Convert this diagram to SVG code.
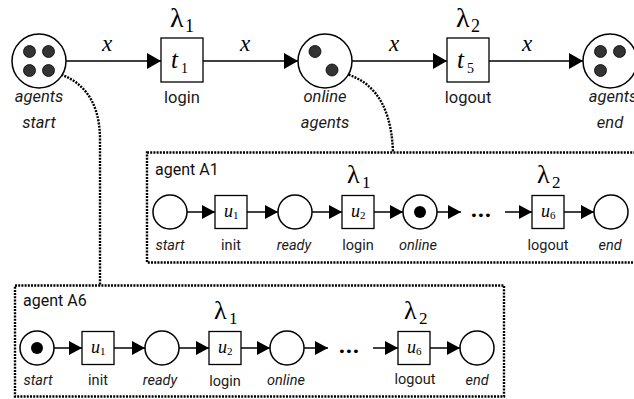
<svg xmlns="http://www.w3.org/2000/svg" width="634" height="399" viewBox="0 0 634 399">
<style>
.pl{fill:#fff;stroke:#000;stroke-width:1.5}
.tr{fill:#fff;stroke:#000;stroke-width:1.3}
.tk{fill:#333;stroke:#000;stroke-width:0.8}
.dot{fill:#000}
.ln{stroke:#000;stroke-width:1.5;fill:none}
.big{marker-end:url(#ah)}
.sm{marker-end:url(#as)}
.dt{fill:none;stroke:#000;stroke-width:2.4;stroke-dasharray:2 1.2}
.lab{font-family:Roboto,"Liberation Sans",sans-serif;font-size:16.5px;fill:#1a1a1a;text-anchor:middle}
.it{font-style:italic}
.sl{font-family:Roboto,"Liberation Sans",sans-serif;font-size:14.5px;fill:#1a1a1a;text-anchor:middle}
.ag{font-family:Roboto,"Liberation Sans",sans-serif;font-size:16px;fill:#111}
.m{font-family:"Liberation Serif","DejaVu Serif",serif;fill:#000}
.mi{font-family:"Liberation Serif","DejaVu Serif",serif;font-style:italic;fill:#000}
.dd{font-family:Roboto,"Liberation Sans",sans-serif;font-size:24px;font-weight:bold;text-anchor:middle;fill:#000}
</style>
<defs>
<marker id="ah" viewBox="0 0 14 16" refX="14" refY="8" markerWidth="14" markerHeight="16" markerUnits="userSpaceOnUse" orient="auto"><path d="M0,0 L14,8 L0,16 z" fill="#000"/></marker>
<marker id="as" viewBox="0 0 13 14" refX="13" refY="7" markerWidth="13" markerHeight="14" markerUnits="userSpaceOnUse" orient="auto"><path d="M0,0 L13,7 L0,14 z" fill="#000"/></marker>
</defs>

<!-- sub-net frames -->
<g id="frameA1"><rect class="dt" x="147" y="152.5" width="500" height="110"/><text class="ag" x="155" y="175">agent A1</text></g>
<g id="frameA6"><rect class="dt" x="15" y="285.5" width="489" height="111"/><text class="ag" x="23" y="306">agent A6</text></g>

<g id="connectors">
<line class="ln big" x1="66" y1="61" x2="161" y2="61"/>
<line class="ln big" x1="203" y1="61" x2="298" y2="61"/>
<line class="ln big" x1="352" y1="61" x2="447" y2="61"/>
<line class="ln big" x1="489" y1="61" x2="583" y2="61"/>
<path class="dt" d="M49,71 C82,78 100,100 100,140 L100,285"/>
<path class="dt" d="M333,71 C368,76 391,98 393,152"/>
<!-- A1 row -->
<line class="ln sm" x1="187" y1="212" x2="215" y2="212"/>
<line class="ln sm" x1="247" y1="212" x2="278" y2="212"/>
<line class="ln sm" x1="312" y1="212" x2="342" y2="212"/>
<line class="ln sm" x1="374" y1="212" x2="403" y2="212"/>
<line class="ln sm" x1="437" y1="212" x2="461" y2="212"/>
<line class="ln sm" x1="505" y1="212" x2="532" y2="212"/>
<line class="ln sm" x1="564" y1="212" x2="594" y2="212"/>
<!-- A6 row -->
<line class="ln sm" x1="54" y1="348" x2="82" y2="348"/>
<line class="ln sm" x1="114" y1="348" x2="145" y2="348"/>
<line class="ln sm" x1="179" y1="348" x2="209" y2="348"/>
<line class="ln sm" x1="241" y1="348" x2="270" y2="348"/>
<line class="ln sm" x1="304" y1="348" x2="328" y2="348"/>
<line class="ln sm" x1="373" y1="348" x2="398" y2="348"/>
<line class="ln sm" x1="430" y1="348" x2="460" y2="348"/>
<g class="mi" font-size="23" text-anchor="middle">
<text x="107" y="51">x</text><text x="245" y="51">x</text><text x="394" y="51">x</text><text x="527" y="51">x</text>
</g>
</g>

<!-- top row -->
<g id="agentsStart">
<circle class="pl" cx="39" cy="61" r="27"/>
<circle class="tk" cx="29.5" cy="51.5" r="6"/><circle class="tk" cx="48.5" cy="51.5" r="6"/>
<circle class="tk" cx="29.5" cy="70.5" r="6"/><circle class="tk" cx="48.5" cy="70.5" r="6"/>
<text class="lab it" x="39" y="102">agents</text><text class="lab it" x="39" y="128">start</text>
</g>
<g id="t1">
<rect class="tr" x="161" y="38" width="42" height="44"/>
<text class="mi" font-size="25" x="171" y="68">t</text><text class="m" font-size="14" x="181" y="73">1</text>
<text class="m" font-size="28" x="170" y="27">λ</text><text class="m" font-size="18" x="185" y="32">1</text>
<text class="lab" x="182" y="103">login</text>
</g>
<g id="onlineAgents">
<circle class="pl" cx="325" cy="61" r="27"/>
<circle class="tk" cx="315" cy="51.5" r="6"/><circle class="tk" cx="332" cy="70" r="6"/>
<text class="lab it" x="325" y="102">online</text><text class="lab it" x="325" y="128">agents</text>
</g>
<g id="t5">
<rect class="tr" x="447" y="38" width="42" height="44"/>
<text class="mi" font-size="25" x="457" y="68">t</text><text class="m" font-size="14" x="467" y="73">5</text>
<text class="m" font-size="28" x="456" y="27">λ</text><text class="m" font-size="18" x="471" y="32">2</text>
<text class="lab" x="468" y="103">logout</text>
</g>
<g id="agentsEnd">
<circle class="pl" cx="610" cy="61" r="27"/>
<circle class="tk" cx="600.5" cy="51.5" r="6"/><circle class="tk" cx="619.5" cy="51.5" r="6"/>
<circle class="tk" cx="600.5" cy="70.5" r="6"/>
<text class="lab it" x="613" y="102">agents</text><text class="lab it" x="610" y="128">end</text>
</g>

<!-- A1 row -->
<g id="a1start"><circle class="pl" cx="170" cy="212" r="17"/><text class="sl it" x="170" y="250">start</text></g>
<g id="a1u1"><rect class="tr" x="215" y="195.5" width="32" height="33"/><text class="mi" font-size="18" x="224" y="217">u</text><text class="m" font-size="11" x="233" y="219">1</text><text class="sl" x="231" y="250">init</text></g>
<g id="a1ready"><circle class="pl" cx="295" cy="212" r="17"/><text class="sl it" x="294" y="250">ready</text></g>
<g id="a1u2"><rect class="tr" x="342" y="195.5" width="32" height="33"/><text class="mi" font-size="18" x="351" y="217">u</text><text class="m" font-size="11" x="360" y="219">2</text><text class="m" font-size="26" x="347" y="183">λ</text><text class="m" font-size="17" x="362" y="188">1</text><text class="sl" x="358" y="250">login</text></g>
<g id="a1online"><circle class="pl" cx="420" cy="212" r="17"/><circle class="dot" cx="420" cy="212" r="6"/><text class="sl it" x="418" y="250">online</text></g>
<g id="a1dots"><text class="dd" x="481" y="217">...</text></g>
<g id="a1u6"><rect class="tr" x="532" y="195.5" width="32" height="33"/><text class="mi" font-size="18" x="541" y="217">u</text><text class="m" font-size="11" x="550" y="219">6</text><text class="m" font-size="26" x="537" y="183">λ</text><text class="m" font-size="17" x="552" y="188">2</text><text class="sl" x="548" y="250">logout</text></g>
<g id="a1end"><circle class="pl" cx="611" cy="212" r="17"/><text class="sl it" x="610" y="250">end</text></g>

<!-- A6 row -->
<g id="a6start"><circle class="pl" cx="37" cy="348" r="17"/><circle class="dot" cx="37" cy="348" r="6"/><text class="sl it" x="38" y="385">start</text></g>
<g id="a6u1"><rect class="tr" x="82" y="331.5" width="32" height="33"/><text class="mi" font-size="18" x="91" y="353">u</text><text class="m" font-size="11" x="100" y="355">1</text><text class="sl" x="98" y="385">init</text></g>
<g id="a6ready"><circle class="pl" cx="162" cy="348" r="17"/><text class="sl it" x="160" y="385">ready</text></g>
<g id="a6u2"><rect class="tr" x="209" y="331.5" width="32" height="33"/><text class="mi" font-size="18" x="218" y="353">u</text><text class="m" font-size="11" x="227" y="355">2</text><text class="m" font-size="26" x="214" y="319">λ</text><text class="m" font-size="17" x="229" y="324">1</text><text class="sl" x="225" y="386">login</text></g>
<g id="a6online"><circle class="pl" cx="287" cy="348" r="17"/><text class="sl it" x="286" y="385">online</text></g>
<g id="a6dots"><text class="dd" x="349" y="353">...</text></g>
<g id="a6u6"><rect class="tr" x="398" y="331.5" width="32" height="33"/><text class="mi" font-size="18" x="407" y="353">u</text><text class="m" font-size="11" x="416" y="355">6</text><text class="m" font-size="26" x="404" y="319">λ</text><text class="m" font-size="17" x="419" y="324">2</text><text class="sl" x="415" y="384">logout</text></g>
<g id="a6end"><circle class="pl" cx="477" cy="348" r="17"/><text class="sl it" x="477" y="385">end</text></g>
</svg>
